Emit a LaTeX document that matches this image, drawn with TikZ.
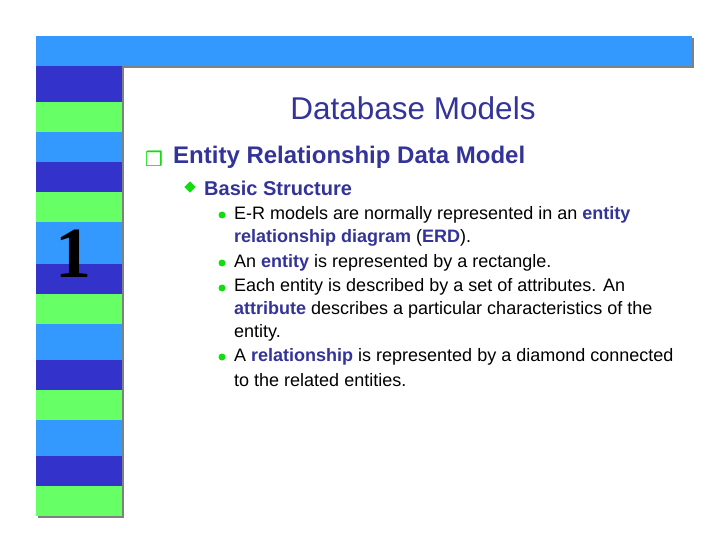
\documentclass[tikz,border=0pt]{standalone}
\usepackage{fontspec}
\setmainfont{Liberation Sans}
\newfontfamily\serifnum{Liberation Serif}
\newfontfamily\djfont{DejaVu Sans}
\definecolor{lb}{HTML}{3399FF}
\definecolor{db}{HTML}{3333CC}
\definecolor{gr}{HTML}{66FF66}
\definecolor{tx}{HTML}{333399}
\definecolor{bul}{HTML}{11DD11}
\newcommand{\bb}[1]{\textbf{\color{tx}#1}}
\begin{document}
\begin{tikzpicture}[x=1pt,y=-1pt,
  body/.style={anchor=west,inner sep=0pt,font=\fontsize{18}{20}\selectfont},
  dot/.style={circle,fill=bul,inner sep=0pt,minimum size=7pt}]
\useasboundingbox (0,0) rectangle (720,540);
\fill[gray] (38,38) rectangle (694,68);
\fill[gray] (38,66) rectangle (124,518);
\fill[lb] (36,36) rectangle (692,66);
\foreach \a/\b/\c in {66/102/db,102/132/gr,132/162/lb,162/192/db,192/222/gr,222/264/lb,264/294/db,294/324/gr,324/360/lb,360/390/db,390/420/gr,420/456/lb,456/486/db,486/516/gr}
  \fill[\c] (36,\a) rectangle (122,\b);
\node (num) at (73,254) {\serifnum\bfseries\fontsize{72}{72}\selectfont 1};
\node (title) at (413,108) {\color{tx}\fontsize{31.5}{34}\selectfont Database Models};
\node (ic) at (154,159) {\djfont\color{bul}\fontsize{20}{20}\selectfont ❒};
\node[body,font=\fontsize{24}{26}\selectfont\bfseries,text=tx] (l1) at (173,157) {Entity Relationship Data Model};
\node[fill=bul,inner sep=0pt,minimum size=8pt,rotate=45] (d2) at (190,187) {};
\node[body,font=\fontsize{20}{22}\selectfont\bfseries,text=tx] (l2) at (204,188) {Basic Structure};
\node[dot] (b1) at (222,215) {};
\node[dot] (b2) at (222,263) {};
\node[dot] (b3) at (222,288) {};
\node[dot] (b4) at (222,357) {};
\node[body] (t1a) at (234,215) {E-R models are normally represented in an \bb{entity}};
\node[body] (t1b) at (234,238) {\bb{relationship diagram} (\bb{ERD}).};
\node[body] (t2) at (234,263) {An \bb{entity} is represented by a rectangle.};
\node[body] (t3a) at (234,287) {Each entity is described by a set of attributes. An};
\node[body] (t3b) at (234,310) {\bb{attribute} describes a particular characteristics of the};
\node[body] (t3c) at (234,333) {entity.};
\node[body] (t4a) at (234,357) {A \bb{relationship} is represented by a diamond connected};
\node[body] (t4b) at (234,380) {to the related entities.};
\end{tikzpicture}
\end{document}
